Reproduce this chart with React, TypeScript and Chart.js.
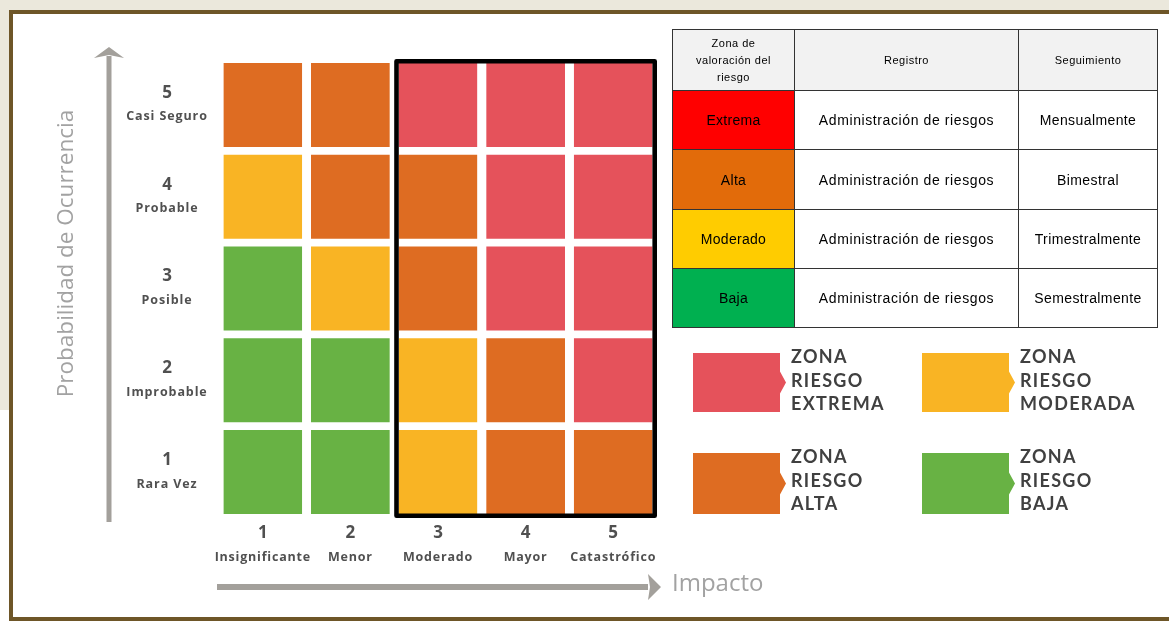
import React, { useEffect, useRef } from "react";
import { Chart, registerables } from "chart.js";

Chart.register(...registerables);

// ---- data ----
const impactLevels = ["1", "2", "3", "4", "5"];
const impactNames = ["Insignificante", "Menor", "Moderado", "Mayor", "Catastrófico"];
const probLevels = ["1", "2", "3", "4", "5"];
const probNames = ["Rara Vez", "Improbable", "Posible", "Probable", "Casi Seguro"];

// zone of every cell, one array per probability level (1 = bottom row), columns = impact 1..5
const rowRaraVez = ["Baja", "Baja", "Moderada", "Alta", "Alta"];
const rowImprobable = ["Baja", "Baja", "Moderada", "Alta", "Extrema"];
const rowPosible = ["Baja", "Moderada", "Alta", "Extrema", "Extrema"];
const rowProbable = ["Moderada", "Alta", "Alta", "Extrema", "Extrema"];
const rowCasiSeguro = ["Alta", "Alta", "Extrema", "Extrema", "Extrema"];
const matrixRows = [rowRaraVez, rowImprobable, rowPosible, rowProbable, rowCasiSeguro];

const zoneColors: Record<string, string> = {
  Extrema: "#e5525b",
  Alta: "#de6c22",
  Moderada: "#f9b424",
  Baja: "#68b244",
};
const legendZones = ["Extrema", "Moderada", "Alta", "Baja"];
const legendLabels = ["EXTREMA", "MODERADA", "ALTA", "BAJA"];

const highlightFromImpact = "3"; // framed columns: impact 3..5

const tableHeader = ["Zona de valoración del riesgo", "Registro", "Seguimiento"];
const tableZones = ["Extrema", "Alta", "Moderado", "Baja"];
const tableZoneColors = ["#ff0000", "#e26b0a", "#ffcc00", "#00b050"];
const tableRegistro = [
  "Administración de riesgos",
  "Administración de riesgos",
  "Administración de riesgos",
  "Administración de riesgos",
];
const tableSeguimiento = ["Mensualmente", "Bimestral", "Trimestralmente", "Semestralmente"];

const xTitle = "Impacto";
const yTitle = "Probabilidad de Ocurrencia";

const LABEL_FONT = "'Open Sans', 'Noto Sans', sans-serif";
const AXIS_GRAY = "#a3a09b";

const decorPlugin = {
  id: "decor",
  afterDatasetsDraw(chart: any) {
    const { ctx, chartArea: a, scales } = chart;
    const x = scales.x;
    const y = scales.y;
    const pitch = (a.right - a.left) / impactLevels.length;
    ctx.save();

    // frame around highlighted impact columns
    const fi = impactLevels.indexOf(highlightFromImpact);
    const fx0 = x.getPixelForValue(fi) - pitch / 2;
    const lw = 4.6;
    ctx.strokeStyle = "#000";
    ctx.lineWidth = lw;
    ctx.lineJoin = "round";
    ctx.strokeRect(fx0 + lw / 2, a.top + lw / 2, a.right - fx0 - lw, a.bottom - a.top - lw);

    // y arrow
    ctx.fillStyle = AXIS_GRAY;
    const ax = a.left - 110;
    ctx.fillRect(ax - 2.5, a.top - 3, 5, a.bottom + 4 - (a.top - 3));
    ctx.beginPath();
    ctx.moveTo(ax, a.top - 12);
    ctx.lineTo(ax - 15, a.top - 1);
    ctx.lineTo(ax, a.top - 4);
    ctx.lineTo(ax + 15, a.top - 1);
    ctx.closePath();
    ctx.fill();

    // x arrow
    const ay = a.bottom + 69;
    ctx.fillRect(a.left - 2, ay - 3, a.right - 9 - (a.left - 2), 6);
    ctx.beginPath();
    ctx.moveTo(a.right + 4, ay);
    ctx.lineTo(a.right - 9, ay - 13);
    ctx.lineTo(a.right - 7, ay);
    ctx.lineTo(a.right - 9, ay + 13);
    ctx.closePath();
    ctx.fill();

    // row labels
    ctx.textAlign = "center";
    ctx.textBaseline = "middle";
    ctx.fillStyle = "#505050";
    for (let i = 0; i < probLevels.length; i++) {
      const cy = y.getPixelForValue(i + 0.5);
      const cx = a.left - 52;
      ctx.font = `bold 17px ${LABEL_FONT}`;
      (ctx as any).letterSpacing = "0px";
      ctx.fillText(probLevels[i], cx, cy - 12);
      ctx.font = `bold 12.5px ${LABEL_FONT}`;
      (ctx as any).letterSpacing = "0.9px";
      ctx.fillText(probNames[i], cx, cy + 12);
    }
    // column labels
    for (let i = 0; i < impactLevels.length; i++) {
      const cx = x.getPixelForValue(i);
      ctx.font = `bold 17px ${LABEL_FONT}`;
      (ctx as any).letterSpacing = "0px";
      ctx.fillText(impactLevels[i], cx, a.bottom + 15);
      ctx.font = `bold 12.5px ${LABEL_FONT}`;
      (ctx as any).letterSpacing = "0.8px";
      ctx.fillText(impactNames[i], cx, a.bottom + 39);
    }

    // axis titles
    (ctx as any).letterSpacing = "0px";
    ctx.fillStyle = "#a2a2a2";
    ctx.font = `24px ${LABEL_FONT}`;
    ctx.textAlign = "left";
    ctx.fillText(xTitle, a.right + 15, ay - 3);
    ctx.save();
    ctx.translate(a.left - 152, (a.top + a.bottom) / 2 - 35);
    ctx.rotate(-Math.PI / 2);
    ctx.textAlign = "center";
    ctx.font = `22.5px ${LABEL_FONT}`;
    ctx.fillText(yTitle, 0, 0);
    ctx.restore();

    ctx.restore();
  },
};

function notchClip(w: number, h: number) {
  const b = w - 6;
  return `polygon(0 0, ${b}px 0, ${b}px ${h / 2 - 11}px, ${w}px ${h / 2}px, ${b}px ${h / 2 + 11}px, ${b}px ${h}px, 0 ${h}px)`;
}

export default function App() {
  const canvasRef = useRef<HTMLCanvasElement | null>(null);

  useEffect(() => {
    if (!canvasRef.current) return;
    const datasets = matrixRows.map((row, r) => ({
      label: probNames[r],
      data: row.map(() => 1),
      backgroundColor: row.map((z) => zoneColors[z]),
      borderColor: "#ffffff",
      borderWidth: { top: 3.9, bottom: 3.9, left: 0, right: 0 },
      borderSkipped: false as any,
      barPercentage: 0.9,
      categoryPercentage: 1,
    }));
    const chart = new Chart(canvasRef.current, {
      type: "bar",
      data: { labels: impactLevels, datasets },
      options: {
        animation: false,
        responsive: false,
        events: [],
        layout: { padding: { left: 219, right: 512, top: 59, bottom: 103 } },
        plugins: { legend: { display: false }, tooltip: { enabled: false } },
        scales: {
          x: { display: false, stacked: true },
          y: { display: false, stacked: true, min: 0, max: probLevels.length },
        },
      },
      plugins: [decorPlugin],
    });
    return () => chart.destroy();
  }, []);

  const colW = [122, 224, 139];
  const rowH = [61, 59, 60, 59, 59];
  const cellBorder = "1.6px solid #333";
  const tf = "'Liberation Sans', Arial, sans-serif";

  return (
    <div
      style={{
        position: "fixed",
        left: 0,
        top: 0,
        width: 1169,
        height: 621,
        overflow: "hidden",
        background: "#ebe8dc",
      }}
    >
      <div style={{ position: "absolute", left: 0, top: 410, width: 10, height: 211, background: "#ffffff" }} />
      <div
        style={{
          position: "absolute",
          left: 9,
          top: 10,
          width: 1200,
          height: 611,
          background: "#ffffff",
          borderLeft: "4px solid #6e5628",
          borderTop: "4px solid #6e5628",
          borderBottom: "4px solid #6e5628",
          boxSizing: "border-box",
        }}
      />
      <canvas
        ref={canvasRef}
        width={1169}
        height={621}
        style={{ position: "absolute", left: 0, top: 0, width: 1169, height: 621 }}
      />
      <table
        style={{
          position: "absolute",
          left: 672,
          top: 29,
          borderCollapse: "collapse",
          tableLayout: "fixed",
          fontFamily: tf,
          color: "#000",
        }}
      >
        <tbody>
          <tr style={{ height: rowH[0], background: "#f2f2f2" }}>
            {tableHeader.map((h, i) => (
              <td
                key={h}
                style={{
                  width: colW[i],
                  border: cellBorder,
                  textAlign: "center",
                  fontSize: 11,
                  lineHeight: "17px",
                  letterSpacing: 0.5,
                  padding: i === 0 ? "0 18px" : 0,
                  boxSizing: "border-box",
                }}
              >
                {h}
              </td>
            ))}
          </tr>
          {tableZones.map((z, r) => (
            <tr key={z} style={{ height: rowH[r + 1] }}>
              <td style={{ border: cellBorder, background: tableZoneColors[r], textAlign: "center", fontSize: 14, letterSpacing: 0.3 }}>
                {z}
              </td>
              <td style={{ border: cellBorder, textAlign: "center", fontSize: 14, letterSpacing: 0.6 }}>{tableRegistro[r]}</td>
              <td style={{ border: cellBorder, textAlign: "center", fontSize: 14, letterSpacing: 0.4 }}>{tableSeguimiento[r]}</td>
            </tr>
          ))}
        </tbody>
      </table>
      {legendZones.map((z, i) => {
        const left = i % 2 === 0 ? 693 : 922;
        const top = i < 2 ? 353 : 453;
        const h = i < 2 ? 59 : 61;
        return (
          <React.Fragment key={z}>
            <div
              style={{
                position: "absolute",
                left,
                top,
                width: 93,
                height: h,
                background: zoneColors[z],
                clipPath: notchClip(93, h),
              }}
            />
            <div
              style={{
                position: "absolute",
                left: left + 98,
                top: top - 8,
                fontFamily: "Lato, 'Open Sans', sans-serif",
                fontWeight: 700,
                fontSize: 18,
                lineHeight: "23.5px",
                letterSpacing: 1.3,
                color: "#404040",
              }}
            >
              <div>ZONA</div>
              <div>RIESGO</div>
              <div>{legendLabels[i]}</div>
            </div>
          </React.Fragment>
        );
      })}
    </div>
  );
}
